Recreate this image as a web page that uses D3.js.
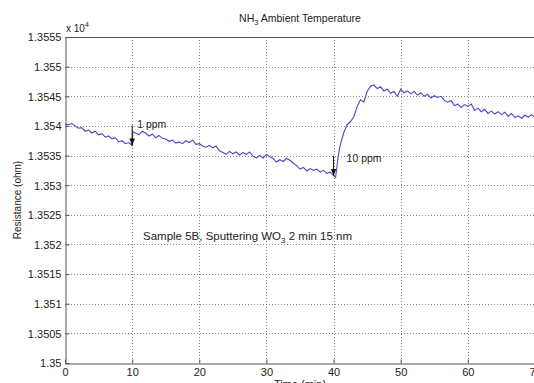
<!DOCTYPE html>
<html>
<head>
<meta charset="utf-8">
<script src="https://cdn.jsdelivr.net/npm/d3@7/dist/d3.min.js"></script>
<style>
  body { margin: 0; background: #fff; }
  text { font-family: 'Liberation Sans', Arial, sans-serif; fill: #222; }
</style>
</head>
<body>
<script>
// resistance (x10^4 ohm) vs time (min)
const samples = [
  [0, 1.35403], [0.5, 1.35402], [1, 1.35404], [1.5, 1.354], [2, 1.35396], [2.5, 1.35397],
  [3, 1.35391], [3.5, 1.35393], [4, 1.35388], [4.5, 1.35391], [5, 1.35385], [5.5, 1.35387],
  [6, 1.35381], [6.5, 1.35383], [7, 1.35378], [7.5, 1.3538], [8, 1.35373], [8.5, 1.35375],
  [9, 1.3537], [9.5, 1.35372], [10, 1.35367], [10.1, 1.3539], [10.5, 1.35388], [11, 1.35385],
  [11.5, 1.35391], [12, 1.35388], [12.5, 1.35383], [13, 1.35386], [13.5, 1.3538], [14, 1.35384],
  [14.5, 1.35379], [15, 1.35378], [15.5, 1.35374], [16, 1.35376], [16.5, 1.35371], [17, 1.35373],
  [17.5, 1.3537], [18, 1.35375], [18.5, 1.35372], [19, 1.35376], [19.5, 1.35369], [20, 1.3537],
  [20.5, 1.35366], [21, 1.35364], [21.5, 1.35367], [22, 1.35363], [22.5, 1.35366], [23, 1.35358],
  [23.5, 1.35355], [24, 1.35352], [24.5, 1.35357], [25, 1.35353], [25.5, 1.35356], [26, 1.35351],
  [26.5, 1.35355], [27, 1.35352], [27.5, 1.35356], [28, 1.35349], [28.5, 1.35346], [29, 1.3535],
  [29.5, 1.35346], [30, 1.35352], [30.5, 1.35348], [31, 1.35345], [31.5, 1.35339], [32, 1.35343],
  [32.5, 1.3534], [33, 1.35345], [33.5, 1.35342], [34, 1.35337], [34.5, 1.35333], [35, 1.35327],
  [35.5, 1.3533], [36, 1.35324], [36.5, 1.35328], [37, 1.35325], [37.5, 1.35327], [38, 1.35322],
  [38.5, 1.35325], [39, 1.3532], [39.5, 1.35322], [40, 1.35316], [40.3, 1.35313], [40.7, 1.3535],
  [41, 1.35368], [41.5, 1.35388], [42, 1.35402], [42.5, 1.35407], [43, 1.35415], [43.5, 1.35432],
  [44, 1.35444], [44.5, 1.3544], [45, 1.35458], [45.5, 1.35467], [46, 1.35469], [46.5, 1.35463],
  [47, 1.35466], [47.5, 1.35459], [48, 1.35462], [48.5, 1.35455], [49, 1.35458], [49.5, 1.3545],
  [50, 1.35462], [50.5, 1.35456], [51, 1.35459], [51.5, 1.35454], [52, 1.35458], [52.5, 1.35452],
  [53, 1.35456], [53.5, 1.3545], [54, 1.35453], [54.5, 1.35447], [55, 1.35451], [55.5, 1.35448],
  [56, 1.3545], [56.5, 1.35443], [57, 1.3544], [57.5, 1.35443], [58, 1.35434], [58.5, 1.35437],
  [59, 1.35431], [59.5, 1.35436], [60, 1.35433], [60.5, 1.35437], [61, 1.35426], [61.5, 1.3543],
  [62, 1.35424], [62.5, 1.35428], [63, 1.35421], [63.5, 1.35425], [64, 1.3542], [64.5, 1.35424],
  [65, 1.35419], [65.5, 1.35423], [66, 1.35416], [66.5, 1.35421], [67, 1.35414], [67.5, 1.35417],
  [68, 1.35413], [68.5, 1.35418], [69, 1.35415], [69.5, 1.35419], [70, 1.35414]
]

const xTicks = [0, 10, 20, 30, 40, 50, 60, 70]
const yTickLabels = ['1.35', '1.3505', '1.351', '1.3515', '1.352', '1.3525',
  '1.353', '1.3535', '1.354', '1.3545', '1.355', '1.3555']

const events = [
  { t: 10, label: '1 ppm', dx: 5, dy: -17 },
  { t: 40, label: '10 ppm', dx: 13, dy: -14 }
]

const W = 534, H = 383
const m = { left: 65, top: 37, right: 535, bottom: 363 }

const x = d3.scaleLinear().domain([0, 70]).range([m.left, m.right])
const y = d3.scaleLinear().domain([1.35, 1.3555]).range([m.bottom, m.top])
const yTicks = yTickLabels.map(Number)

const svg = d3.select('body').append('svg')
  .attr('width', W).attr('height', H)

// grid
const grid = svg.append('g')
  .attr('stroke', '#888').attr('stroke-width', 1).attr('stroke-dasharray', '1,2')
grid.selectAll('line.gx').data(xTicks.slice(1, -1)).join('line')
  .attr('x1', d => Math.round(x(d)) + 0.5).attr('x2', d => Math.round(x(d)) + 0.5)
  .attr('y1', m.top).attr('y2', m.bottom)
grid.selectAll('line.gy').data(yTicks.slice(1, -1)).join('line')
  .attr('y1', d => Math.round(y(d)) + 0.5).attr('y2', d => Math.round(y(d)) + 0.5)
  .attr('x1', m.left).attr('x2', m.right)

// axes
const xAxis = d3.axisBottom(x).tickValues(xTicks).tickSizeInner(-4).tickSizeOuter(0).tickPadding(5)
const yAxis = d3.axisLeft(y).tickValues(yTicks)
  .tickFormat((d, i) => yTickLabels[i]).tickSizeInner(-4).tickSizeOuter(0).tickPadding(4)

const gx = svg.append('g').attr('transform', `translate(0,${m.bottom + 0.5})`).call(xAxis)
const gy = svg.append('g').attr('transform', `translate(${m.left + 0.5},0)`).call(yAxis)
for (const g of [gx, gy]) {
  g.select('.domain').attr('stroke', '#555')
  g.selectAll('.tick line').attr('stroke', '#555')
  g.selectAll('.tick text').attr('font-size', 11).attr('fill', '#222')
    .attr('font-family', "'Liberation Sans', Arial, sans-serif")
}
gy.selectAll('.tick text').attr('dy', '0.35em')

// top border
svg.append('line')
  .attr('x1', m.left).attr('x2', m.right)
  .attr('y1', m.top + 0.5).attr('y2', m.top + 0.5)
  .attr('stroke', '#555')

// data line
svg.append('path')
  .datum(samples)
  .attr('fill', 'none')
  .attr('stroke', '#4848c4')
  .attr('stroke-width', 1.1)
  .attr('d', d3.line().x(d => x(d[0])).y(d => y(d[1])))

// event arrows
svg.append('defs').append('marker')
  .attr('id', 'ah').attr('viewBox', '0 0 10 10').attr('refX', 10).attr('refY', 5)
  .attr('markerWidth', 7).attr('markerHeight', 7).attr('orient', 'auto')
  .append('path').attr('d', 'M0,1 L10,5 L0,9 Z').attr('fill', '#111')

const valueAt = t => {
  const i = d3.bisector(d => d[0]).left(samples, t)
  return samples[Math.max(0, i)][1]
}
const ev = svg.append('g').selectAll('g').data(events).join('g')
ev.append('line')
  .attr('x1', d => x(d.t)).attr('x2', d => x(d.t))
  .attr('y1', d => y(valueAt(d.t)) - 20).attr('y2', d => y(valueAt(d.t)))
  .attr('stroke', '#111').attr('stroke-width', 1)
  .attr('marker-end', 'url(#ah)')
ev.append('text')
  .attr('x', d => x(d.t) + d.dx)
  .attr('y', d => y(valueAt(d.t)) + d.dy)
  .attr('font-size', 10.5)
  .text(d => d.label)

// texts
const title = svg.append('text').attr('x', (m.left + m.right) / 2).attr('y', 22)
  .attr('text-anchor', 'middle').attr('font-size', 10.5)
title.append('tspan').text('NH')
title.append('tspan').attr('font-size', 7.5).attr('dy', 3).text('3')
title.append('tspan').attr('dy', -3).text(' Ambient Temperature')

const expo = svg.append('text').attr('x', m.left + 1).attr('y', 32).attr('font-size', 10)
expo.append('tspan').text('x 10')
expo.append('tspan').attr('font-size', 7).attr('dy', -5).text('4')

svg.append('text')
  .attr('transform', `translate(21,${(m.top + m.bottom) / 2}) rotate(-90)`)
  .attr('text-anchor', 'middle').attr('font-size', 10)
  .text('Resistance (ohm)')

svg.append('text').attr('x', 300).attr('y', 388)
  .attr('text-anchor', 'middle').attr('font-size', 11)
  .text('Time (min)')

const note = svg.append('text').attr('x', 143).attr('y', 240).attr('font-size', 11.5)
note.append('tspan').text('Sample 5B, Sputtering WO')
note.append('tspan').attr('font-size', 8).attr('dy', 3).text('3')
note.append('tspan').attr('dy', -3).text(' 2 min 15 nm')
</script>
</body>
</html>
